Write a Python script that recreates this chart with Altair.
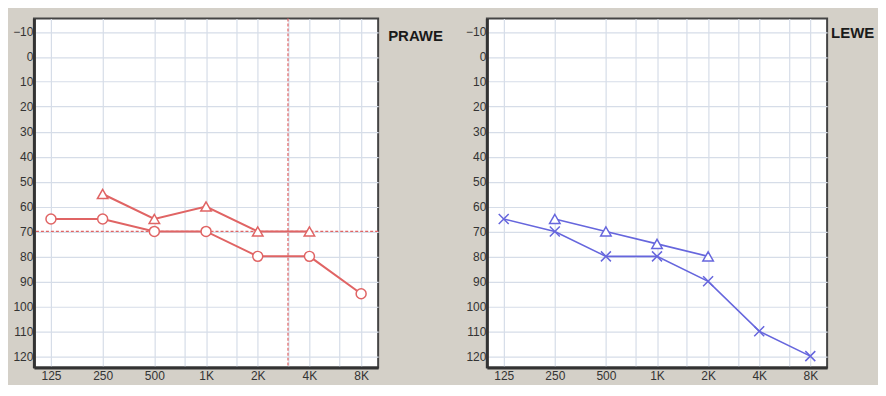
import altair as alt
import pandas as pd

# ---- data ----
freqs = [125, 250, 500, 1000, 2000, 4000, 8000]
freq_labels = ["125", "250", "500", "1K", "2K", "4K", "8K"]
grid_freqs = [125, 250, 500, 750, 1000, 1500, 2000, 3000, 4000, 6000, 8000]
db_ticks = [-10, 0, 10, 20, 30, 40, 50, 60, 70, 80, 90, 100, 110, 120]

right_air_freq = [125, 250, 500, 1000, 2000, 4000, 8000]
right_air_db = [65, 65, 70, 70, 80, 80, 95]
right_bone_freq = [250, 500, 1000, 2000, 4000]
right_bone_db = [55, 65, 60, 70, 70]

left_air_freq = [125, 250, 500, 1000, 2000, 4000, 8000]
left_air_db = [65, 70, 80, 80, 90, 110, 120]
left_bone_freq = [250, 500, 1000, 2000]
left_bone_db = [65, 70, 75, 80]

cursor_freq = [3000]
cursor_db = [70]

# ---- helpers ----
label_map = "{" + ",".join(f"'{f}':'{l}'" for f, l in zip(freqs, freq_labels)) + "}"
label_expr = f"({label_map})[datum.value + ''] || ''"

xscale = alt.Scale(type="log", base=2, domain=[99.5, 10050], nice=False)
yscale = alt.Scale(domain=[-15.4, 124.6], reverse=True, nice=False, zero=False)

xaxis = alt.Axis(values=grid_freqs, labelExpr=label_expr, title=None, ticks=False,
                 grid=True, gridColor="#d6dde8", gridWidth=1.2,
                 domain=True, domainColor="#333333", domainWidth=3,
                 labelFont="Liberation Sans", labelFontSize=12, labelColor="#333333",
                 labelPadding=3, labelOverlap=False, labelFlush=False)
yaxis = alt.Axis(values=db_ticks, title=None, ticks=False,
                 grid=True, gridColor="#d6dde8", gridWidth=1.2,
                 domain=True, domainColor="#333333", domainWidth=3,
                 labelFont="Liberation Sans", labelFontSize=12, labelColor="#333333",
                 labelPadding=1, minExtent=23, labelOverlap=False, labelFlush=False)

XSHAPE = "M-1,-1L1,1M1,-1L-1,1"
H = 350


def panel(air_f, air_db, bone_f, bone_db, color, air_shape, air_filled, lw,
          title, width, title_dx, title_y, cursor):
    air = pd.DataFrame({"f": air_f, "db": air_db})
    bone = pd.DataFrame({"f": bone_f, "db": bone_db})
    x = alt.X("f:Q", scale=xscale, axis=xaxis)
    y = alt.Y("db:Q", scale=yscale, axis=yaxis)
    layers = []
    if cursor:
        cf = pd.DataFrame({"f": cursor_freq})
        cd = pd.DataFrame({"db": cursor_db})
        layers.append(alt.Chart(cf).mark_rule(color=color, strokeDash=[3, 2], strokeWidth=1.2)
                      .encode(x=x))
        layers.append(alt.Chart(cd).mark_rule(color=color, strokeDash=[3, 2], strokeWidth=1.2)
                      .encode(y=y))
    layers.append(alt.Chart(air).mark_line(color=color, strokeWidth=lw).encode(x=x, y=y))
    layers.append(alt.Chart(bone).mark_line(color=color, strokeWidth=lw).encode(x=x, y=y))
    if air_filled:
        layers.append(alt.Chart(air).mark_point(shape=air_shape, filled=True, fill="white",
                                                stroke=color, strokeWidth=1.5, size=100, opacity=1)
                      .encode(x=x, y=y))
    else:
        layers.append(alt.Chart(air).mark_point(shape=air_shape, filled=False,
                                                stroke=color, strokeWidth=1.5, size=100, opacity=1)
                      .encode(x=x, y=y))
    layers.append(alt.Chart(bone).mark_point(shape="triangle-up", filled=True, fill="white",
                                             stroke=color, strokeWidth=1.5, size=110, opacity=1)
                  .encode(x=x, y=y))
    td = pd.DataFrame({"t": [title]})
    layers.append(alt.Chart(td).mark_text(align="left", baseline="middle", fontSize=15,
                                          fontWeight="bold", font="Liberation Sans",
                                          color="#1a1a1a")
                  .encode(text="t:N", x=alt.value(width + title_dx), y=alt.value(title_y)))
    return alt.layer(*layers).properties(width=width, height=H)


left = panel(right_air_freq, right_air_db, right_bone_freq, right_bone_db,
             "#e06464", "circle", True, 2, "PRAWE", 345, 10, 18, True)
right = panel(left_air_freq, left_air_db, left_bone_freq, left_bone_db,
              "#6666dd", XSHAPE, False, 1.6, "LEWE", 341, 4, 15, False)

chart = (alt.hconcat(left, right, spacing=109, bounds="flush")
         .properties(padding={"left": 2, "top": 8, "right": 2, "bottom": 2})
         .configure(background="#d4d0c8")
         .configure_view(fill="white", stroke="#444444", strokeWidth=2))

chart.save("out.html", embed_options={"renderer": "svg", "actions": False})
